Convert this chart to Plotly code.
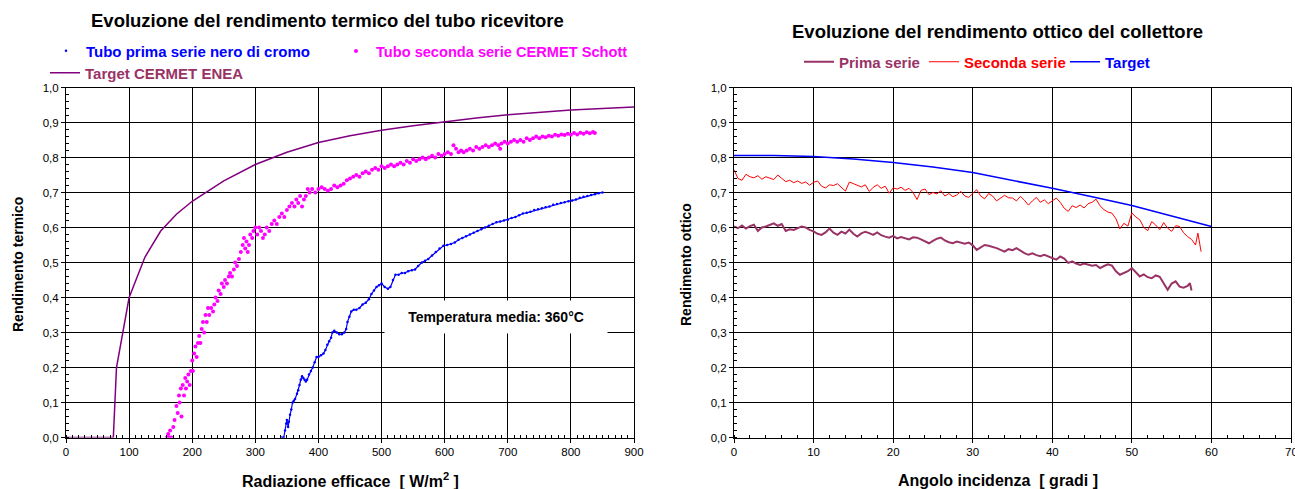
import plotly.graph_objects as go

# ---------------- Left chart data ----------------
target_enea_x = [0, 75, 80, 100, 125, 150, 175, 200, 250, 300, 350, 400, 450, 500,
                 550, 600, 650, 700, 750, 800, 850, 900]
target_enea_y = [0.0, 0.0, 0.2, 0.4, 0.515, 0.59, 0.638, 0.675, 0.733, 0.78, 0.815,
                 0.843, 0.862, 0.878, 0.891, 0.903, 0.913, 0.922, 0.93, 0.936, 0.94, 0.944]

cermet_x = [160, 162, 164, 165, 167, 170, 172, 175, 177, 179, 180, 182, 183, 185, 187,
            189, 190, 192, 194, 196, 198, 200, 201, 203, 205, 207, 209, 211, 213, 215,
            217, 219, 221, 223, 225, 227, 230, 233, 235, 237, 240, 242, 245, 247, 250,
            252, 255, 258, 260, 263, 266, 268, 271, 274, 277, 280, 282, 284, 286, 288,
            290, 292, 295, 297, 300, 303, 306, 309, 312, 315, 318, 322, 326, 330, 334,
            338, 342, 346, 350, 354, 358, 362, 365, 368, 371, 374, 377, 380, 383, 386,
            390, 395, 400, 405, 410, 415, 420, 425, 430, 435, 440, 445, 450, 455, 460,
            465, 470, 475, 480, 485, 490, 495, 500, 505, 510, 515, 520, 525, 530, 535,
            540, 545, 550, 555, 560, 565, 570, 575, 580, 585, 590, 595, 600, 605, 610,
            614, 618, 622, 626, 630, 635, 640, 645, 650, 655, 660, 665, 670, 675, 680,
            685, 688, 690, 695, 700, 705, 710, 715, 720, 725, 730, 735, 740, 745, 750,
            755, 760, 765, 770, 775, 780, 785, 790, 795, 800, 805, 810, 815, 820, 825,
            830, 835, 838]
cermet_y = [0.0, 0.01, 0.0, 0.02, 0.0, 0.03, 0.05, 0.09, 0.07, 0.12, 0.10, 0.14, 0.06,
            0.15, 0.12, 0.17, 0.14, 0.16, 0.18, 0.15, 0.19, 0.22, 0.19, 0.24, 0.26, 0.23,
            0.27, 0.29, 0.27, 0.31, 0.33, 0.30, 0.35, 0.33, 0.37, 0.35, 0.37, 0.36, 0.38,
            0.40, 0.39, 0.42, 0.41, 0.44, 0.43, 0.45, 0.44, 0.46, 0.47, 0.46, 0.48, 0.50,
            0.49, 0.51, 0.53, 0.55, 0.57, 0.54, 0.56, 0.53, 0.55, 0.58, 0.57, 0.59, 0.60,
            0.58, 0.60, 0.59, 0.57, 0.58, 0.60, 0.59, 0.61, 0.62, 0.61, 0.63, 0.64, 0.63,
            0.65, 0.66, 0.67, 0.66, 0.68, 0.67, 0.69, 0.66, 0.68, 0.69, 0.71, 0.70, 0.71,
            0.70, 0.71, 0.715, 0.71, 0.705, 0.71, 0.72, 0.715, 0.72, 0.725, 0.735, 0.74,
            0.745, 0.75, 0.745, 0.755, 0.76, 0.755, 0.765, 0.77, 0.765, 0.775, 0.77,
            0.775, 0.78, 0.775, 0.78, 0.785, 0.78, 0.79, 0.785, 0.795, 0.79, 0.795, 0.80,
            0.795, 0.80, 0.805, 0.80, 0.81, 0.805, 0.81, 0.815, 0.81, 0.835, 0.825, 0.815,
            0.82, 0.815, 0.82, 0.825, 0.82, 0.83, 0.825, 0.83, 0.835, 0.83, 0.835, 0.84,
            0.835, 0.825, 0.84, 0.845, 0.84, 0.845, 0.85, 0.845, 0.85, 0.845, 0.855, 0.85,
            0.855, 0.86, 0.855, 0.86, 0.858, 0.862, 0.86, 0.865, 0.862, 0.866, 0.864,
            0.868, 0.865, 0.87, 0.866, 0.871, 0.868, 0.872, 0.869, 0.873, 0.87]

cromo_x = [342, 345, 347, 349, 350, 352, 353, 355, 357, 359, 361, 363, 366, 368, 370,
           372, 374, 376, 378, 380, 382, 385, 388, 391, 394, 397, 400, 404, 408, 411,
           414, 417, 420, 422, 425, 429, 433, 437, 441, 444, 446, 449, 452, 456, 460,
           465, 470, 475, 480, 484, 488, 492, 496, 500, 505, 510, 514, 518, 522, 527,
           532, 537, 542, 548, 553, 558, 564, 569, 574, 580, 586, 592, 598, 604, 610,
           616, 622, 628, 634, 640, 646, 652, 658, 664, 670, 676, 682, 688, 694, 700,
           706, 712, 718, 724, 730, 736, 742, 748, 754, 760, 766, 772, 778, 784, 790,
           796, 802, 808, 814, 820, 826, 832, 838, 844, 850]
cromo_y = [0.0, 0.0, 0.02, 0.04, 0.05, 0.03, 0.045, 0.065, 0.08, 0.10, 0.105, 0.11,
           0.125, 0.135, 0.15, 0.165, 0.175, 0.17, 0.165, 0.16, 0.165, 0.18, 0.19, 0.20,
           0.215, 0.23, 0.23, 0.235, 0.24, 0.25, 0.265, 0.275, 0.285, 0.30, 0.305, 0.30,
           0.295, 0.295, 0.30, 0.31, 0.33, 0.345, 0.36, 0.365, 0.365, 0.37, 0.38, 0.385,
           0.395, 0.41, 0.42, 0.43, 0.435, 0.44, 0.43, 0.425, 0.43, 0.45, 0.465, 0.465,
           0.47, 0.47, 0.475, 0.478, 0.48, 0.49, 0.50, 0.505, 0.51, 0.52, 0.53, 0.54,
           0.548, 0.55, 0.553, 0.557, 0.565, 0.57, 0.575, 0.58, 0.585, 0.59, 0.595, 0.60,
           0.605, 0.61, 0.615, 0.617, 0.62, 0.622, 0.627, 0.63, 0.635, 0.64, 0.642, 0.645,
           0.65, 0.652, 0.655, 0.658, 0.66, 0.665, 0.667, 0.67, 0.672, 0.675, 0.677,
           0.68, 0.685, 0.688, 0.69, 0.693, 0.695, 0.698, 0.70]

# ---------------- Right chart data ----------------
target_ang = [0, 5, 10, 15, 20, 25, 30, 35, 40, 45, 50, 55, 60]
target_ott = [0.806, 0.806, 0.803, 0.796, 0.786, 0.773, 0.757, 0.735, 0.712, 0.688,
              0.663, 0.633, 0.603]

seconda_ang = [0, 0.5, 1, 1.5, 2, 2.5, 3, 3.5, 4, 4.5, 5, 5.5, 6, 6.5, 7, 7.5, 8, 8.5,
               9, 9.5, 10, 10.5, 11, 11.5, 12, 12.5, 13, 13.5, 14, 14.5, 15, 15.5, 16,
               16.5, 17, 17.5, 18, 18.5, 19, 19.5, 20, 20.5, 21, 21.5, 22, 22.5, 23,
               23.5, 24, 24.5, 25, 25.5, 26, 26.5, 27, 27.5, 28, 28.5, 29, 29.5, 30,
               30.5, 31, 31.5, 32, 32.5, 33, 33.5, 34, 34.5, 35, 35.5, 36, 36.5, 37,
               37.5, 38, 38.5, 39, 39.5, 40, 40.5, 41, 41.5, 42, 42.5, 43, 43.5, 44,
               44.5, 45, 45.5, 46, 46.5, 47, 47.5, 48, 48.5, 49, 49.5, 50, 50.5, 51,
               51.5, 52, 52.5, 53, 53.5, 54, 54.5, 55, 55.5, 56, 56.5, 57, 57.5, 58,
               58.3, 58.7]
seconda_ott = [0.765, 0.74, 0.735, 0.752, 0.745, 0.742, 0.748, 0.738, 0.745, 0.741,
               0.737, 0.75, 0.74, 0.731, 0.735, 0.728, 0.733, 0.726, 0.73, 0.721, 0.729,
               0.733, 0.718, 0.713, 0.722, 0.72, 0.725, 0.714, 0.704, 0.73, 0.726, 0.72,
               0.716, 0.722, 0.703, 0.715, 0.722, 0.712, 0.718, 0.698, 0.713, 0.71,
               0.715, 0.706, 0.712, 0.70, 0.68, 0.706, 0.71, 0.694, 0.70, 0.696, 0.705,
               0.69, 0.697, 0.688, 0.693, 0.703, 0.69, 0.686, 0.696, 0.708, 0.69, 0.682,
               0.697, 0.69, 0.676, 0.684, 0.692, 0.685, 0.684, 0.676, 0.689, 0.678,
               0.664, 0.676, 0.686, 0.672, 0.679, 0.668, 0.675, 0.684, 0.672, 0.655,
               0.646, 0.662, 0.657, 0.664, 0.656, 0.668, 0.672, 0.681, 0.662, 0.651,
               0.644, 0.641, 0.625, 0.596, 0.612, 0.604, 0.642, 0.63, 0.622, 0.60, 0.591,
               0.617, 0.607, 0.594, 0.614, 0.598, 0.589, 0.605, 0.603, 0.585, 0.574,
               0.566, 0.55, 0.584, 0.531]

prima_ang = [0, 0.5, 1, 1.5, 2, 2.5, 3, 3.5, 4, 4.5, 5, 5.5, 6, 6.5, 7, 7.5, 8, 8.5,
             9, 9.5, 10, 10.5, 11, 11.5, 12, 12.5, 13, 13.5, 14, 14.5, 15, 15.5, 16,
             16.5, 17, 17.5, 18, 18.5, 19, 19.5, 20, 20.5, 21, 21.5, 22, 22.5, 23, 23.5,
             24, 24.5, 25, 25.5, 26, 26.5, 27, 27.5, 28, 28.5, 29, 29.5, 30, 30.5, 31,
             31.5, 32, 32.5, 33, 33.5, 34, 34.5, 35, 35.5, 36, 36.5, 37, 37.5, 38, 38.5,
             39, 39.5, 40, 40.5, 41, 41.5, 42, 42.5, 43, 43.5, 44, 44.5, 45, 45.5, 46,
             46.5, 47, 47.5, 48, 48.5, 49, 49.5, 50, 50.5, 51, 51.5, 52, 52.5, 53, 53.5,
             54, 54.5, 55, 55.5, 56, 56.5, 57, 57.3, 57.5]
prima_ott = [0.603, 0.598, 0.606, 0.597, 0.604, 0.608, 0.59, 0.60, 0.603, 0.607, 0.612,
             0.605, 0.61, 0.59, 0.595, 0.593, 0.597, 0.603, 0.60, 0.593, 0.589, 0.582,
             0.579, 0.586, 0.597, 0.585, 0.579, 0.588, 0.583, 0.594, 0.582, 0.574, 0.583,
             0.588, 0.584, 0.579, 0.586, 0.578, 0.574, 0.571, 0.576, 0.569, 0.573, 0.57,
             0.566, 0.572, 0.571, 0.566, 0.56, 0.555, 0.562, 0.568, 0.571, 0.563, 0.558,
             0.555, 0.56, 0.557, 0.554, 0.557, 0.549, 0.536, 0.543, 0.55, 0.548, 0.545,
             0.541, 0.536, 0.531, 0.538, 0.535, 0.541, 0.533, 0.527, 0.522, 0.526, 0.521,
             0.518, 0.522, 0.517, 0.514, 0.508, 0.517, 0.511, 0.499, 0.503, 0.497, 0.493,
             0.497, 0.494, 0.491, 0.493, 0.484, 0.49, 0.495, 0.491, 0.475, 0.465, 0.47,
             0.475, 0.484, 0.472, 0.46, 0.466, 0.458, 0.455, 0.463, 0.459, 0.44, 0.422,
             0.44, 0.446, 0.431, 0.428, 0.433, 0.441, 0.42]

y_ticks = [0.0, 0.1, 0.2, 0.3, 0.4, 0.5, 0.6, 0.7, 0.8, 0.9, 1.0]
y_ticktext = ["0,0", "0,1", "0,2", "0,3", "0,4", "0,5", "0,6", "0,7", "0,8", "0,9", "1,0"]

FONT = "Liberation Sans, Arial, sans-serif"

fig = go.Figure()

def lname(text, color):
    return f'<b><span style="color:{color}">{text}</span></b>'

# Left traces
fig.add_trace(go.Scatter(x=cromo_x, y=cromo_y, mode="lines", line=dict(color="#0000FF", width=1.2),
                         showlegend=False, xaxis="x", yaxis="y", hoverinfo="skip"))
fig.add_trace(go.Scatter(x=cromo_x, y=cromo_y, mode="markers", marker=dict(color="#0000FF", size=2.5),
                         name=lname("Tubo prima serie nero di cromo", "#0000FF"),
                         legend="legend", xaxis="x", yaxis="y"))
fig.add_trace(go.Scatter(x=cermet_x, y=cermet_y, mode="markers", marker=dict(color="#FF00FF", size=4),
                         name=lname("Tubo seconda serie CERMET Schott", "#FF00FF"),
                         legend="legend4", xaxis="x", yaxis="y"))
fig.add_trace(go.Scatter(x=target_enea_x, y=target_enea_y, mode="lines",
                         line=dict(color="#800080", width=1.5),
                         name=lname("Target CERMET ENEA", "#993366"),
                         legend="legend2", xaxis="x", yaxis="y"))

# Right traces
fig.add_trace(go.Scatter(x=prima_ang, y=prima_ott, mode="lines", line=dict(color="#993366", width=2),
                         name=lname("Prima serie", "#993366"), legend="legend3",
                         xaxis="x2", yaxis="y2"))
fig.add_trace(go.Scatter(x=seconda_ang, y=seconda_ott, mode="lines", line=dict(color="#FF0000", width=1),
                         name=lname("Seconda serie", "#FF0000"), legend="legend5",
                         xaxis="x2", yaxis="y2"))
fig.add_trace(go.Scatter(x=target_ang, y=target_ott, mode="lines", line=dict(color="#0000FF", width=1.5),
                         name=lname("Target", "#0000FF"), legend="legend6",
                         xaxis="x2", yaxis="y2"))

W, H = 1295, 489
ydom = [1 - 437.5 / H, 1 - 87.5 / H]

common_axis = dict(showgrid=True, gridcolor="#000000", gridwidth=1, zeroline=False,
                   showline=True, linecolor="#000000", linewidth=1, mirror=True,
                   ticks="outside", ticklen=4, tickcolor="#000000", automargin=False,
                   tickfont=dict(family=FONT, size=11.5, color="#000000"))

def leg(x, y, size=15):
    return dict(orientation="h", x=x / W, y=1 - y / H, xanchor="left", yanchor="middle",
                xref="container", yref="container",
                bgcolor="rgba(0,0,0,0)", font=dict(family=FONT, size=size))

fig.update_layout(
    width=W, height=H, margin=dict(l=0, r=0, t=0, b=0, autoexpand=False),
    paper_bgcolor="white", plot_bgcolor="white",
    font=dict(family=FONT, color="#000000"),
    xaxis=dict(domain=[66 / W, 634 / W], range=[0, 900], dtick=100, anchor="y",
               minor=dict(dtick=10, ticks="inside", ticklen=3, tickcolor="#000000", showgrid=False),
               **common_axis),
    yaxis=dict(domain=ydom, range=[0, 1], tickvals=y_ticks, ticktext=y_ticktext, anchor="x",
               minor=dict(dtick=0.02, ticks="inside", ticklen=3, tickcolor="#000000", showgrid=False),
               **common_axis),
    xaxis2=dict(domain=[734 / W, 1291 / W], range=[0, 70], dtick=10, anchor="y2",
                minor=dict(dtick=2, ticks="inside", ticklen=3, tickcolor="#000000", showgrid=False),
                **common_axis),
    yaxis2=dict(domain=ydom, range=[0, 1], tickvals=y_ticks, ticktext=y_ticktext, anchor="x2",
                minor=dict(dtick=0.02, ticks="inside", ticklen=3, tickcolor="#000000", showgrid=False),
                **common_axis),
    legend=leg(46, 51),
    legend4=leg(336, 51, 14.6),
    legend2=leg(45, 73),
    legend3=leg(799, 62),
    legend5=leg(924, 62),
    legend6=leg(1065, 62),
    annotations=[
        dict(text="<b>Evoluzione del rendimento termico del tubo ricevitore</b>",
             x=327 / W, y=1 - 21 / H, xref="paper", yref="paper", showarrow=False,
             xanchor="center", yanchor="middle", font=dict(family=FONT, size=18.5)),
        dict(text="<b>Evoluzione del rendimento ottico del collettore</b>",
             x=997 / W, y=1 - 32 / H, xref="paper", yref="paper", showarrow=False,
             xanchor="center", yanchor="middle", font=dict(family=FONT, size=18.5)),
        dict(text="<b>Radiazione efficace  [ W/m<sup>2</sup> ]</b>",
             x=350 / W, y=1 - 480 / H, xref="paper", yref="paper", showarrow=False,
             xanchor="center", yanchor="middle", font=dict(family=FONT, size=16)),
        dict(text="<b>Angolo incidenza  [ gradi ]</b>",
             x=998 / W, y=1 - 480 / H, xref="paper", yref="paper", showarrow=False,
             xanchor="center", yanchor="middle", font=dict(family=FONT, size=16)),
        dict(text="<b>Rendimento termico</b>", textangle=-90,
             x=18 / W, y=1 - 265 / H, xref="paper", yref="paper", showarrow=False,
             xanchor="center", yanchor="middle", font=dict(family=FONT, size=14)),
        dict(text="<b>Rendimento ottico</b>", textangle=-90,
             x=686 / W, y=1 - 265 / H, xref="paper", yref="paper", showarrow=False,
             xanchor="center", yanchor="middle", font=dict(family=FONT, size=14)),
        dict(text="<b>Temperatura media: 360°C</b>", x=682, y=0.345, xref="x", yref="y",
             showarrow=False, xanchor="center", yanchor="middle", bgcolor="white",
             width=220, height=30, font=dict(family=FONT, size=14)),
        dict(text="70", x=70, y=0, xref="x2", yref="y2", showarrow=False,
             xanchor="center", yanchor="top", yshift=-6,
             font=dict(family=FONT, size=11.5, color="#000000")),
    ],
)

fig.write_html("out.html", config={"displayModeBar": False},
               post_script="document.body.style.margin='0';document.body.style.overflow='hidden';")
